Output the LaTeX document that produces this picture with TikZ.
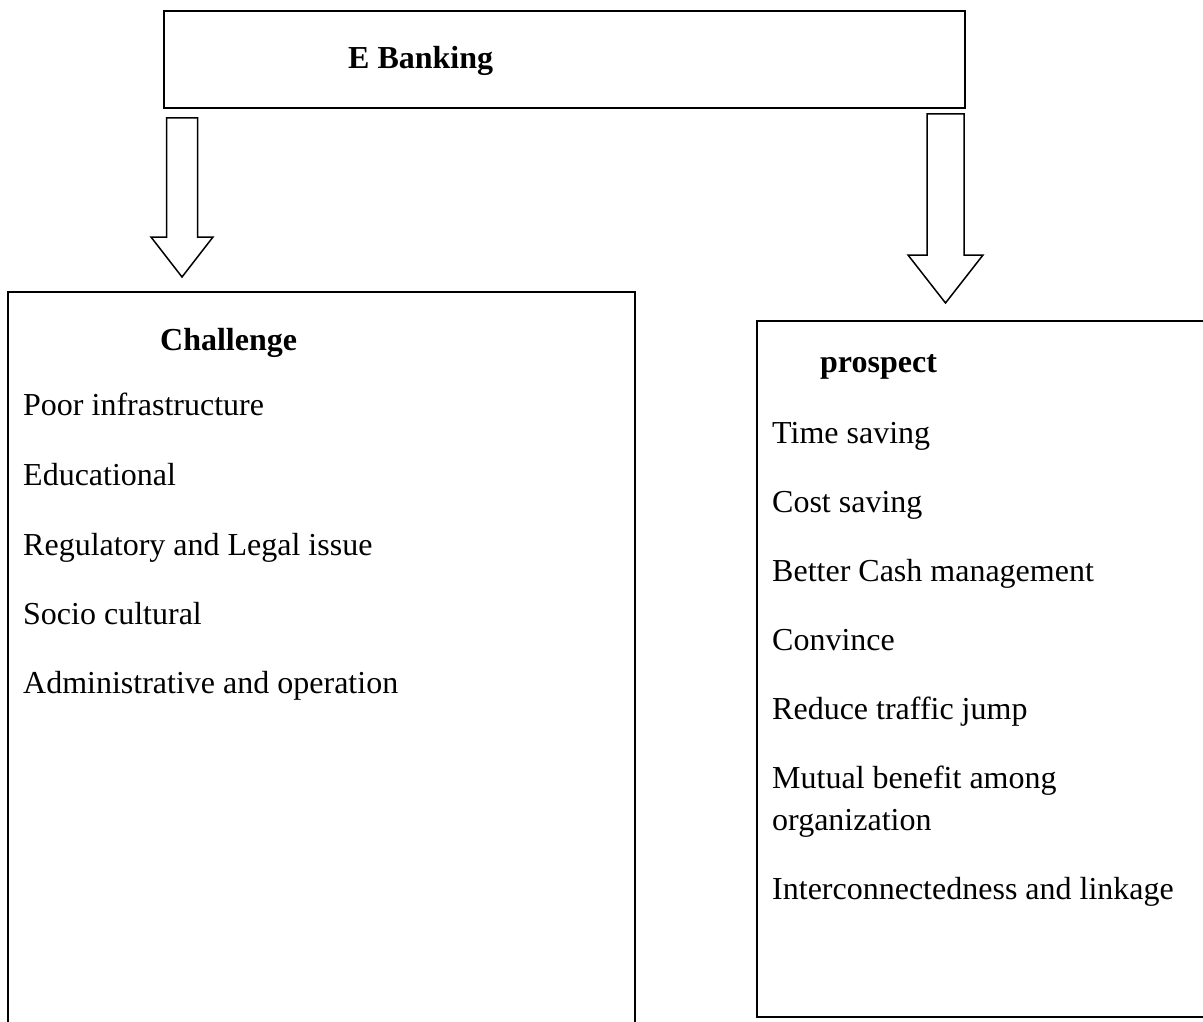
\documentclass[tikz,border=0pt]{standalone}
\usepackage{fontspec}
\setmainfont{Liberation Serif}
\begin{document}
\begin{tikzpicture}[x=1pt,y=-1pt,
  frame/.style={draw,line width=2.4pt,inner sep=0pt,rectangle},
  blockarrow/.style={draw,line width=1.5pt,line join=miter,fill=white},
  txt/.style={anchor=base west,inner sep=0pt,font=\fontsize{32}{38}\selectfont},
  head/.style={txt,font=\fontsize{32}{38}\selectfont\bfseries}]
\useasboundingbox (0,0) rectangle (1203,1022);
\clip (0,0) rectangle (1203,1022);
% boxes
\node[frame,minimum width=801pt,minimum height=97pt] (bank) at (564.5,59.5) {};
\node[frame,minimum width=627pt,minimum height=760pt] (chal) at (321.5,672) {};
\node[frame,minimum width=456pt,minimum height=696pt] (pros) at (985,669) {};
% block arrows (from the E Banking box down to each list box)
\coordinate (ltip) at (182,277);
\coordinate (rtip) at (945.5,303);
\draw[blockarrow] (166.5,118) -- (166.5,237) -- (151,237) -- (ltip) -- (213,237) -- (197.5,237) -- (197.5,118) -- cycle;
\draw[blockarrow] (927,114) -- (927,255) -- (908,255) -- (rtip) -- (983,255) -- (964,255) -- (964,114) -- cycle;
% texts
\node[head] (tb) at (348,69) {E Banking};
\node[head] (tc) at (160,350) {Challenge};
\node[txt] (c1) at (23,415) {Poor infrastructure};
\node[txt] (c2) at (23,485) {Educational};
\node[txt] (c3) at (23,555) {Regulatory and Legal issue};
\node[txt] (c4) at (23,624) {Socio cultural};
\node[txt] (c5) at (23,693) {Administrative and operation};
\node[head] (tp) at (820,372) {prospect};
\node[txt] (p1) at (772,443) {Time saving};
\node[txt] (p2) at (772,512) {Cost saving};
\node[txt] (p3) at (772,581) {Better Cash management};
\node[txt] (p4) at (772,650) {Convince};
\node[txt] (p5) at (772,719) {Reduce traffic jump};
\node[txt] (p6) at (772,788) {Mutual benefit among};
\node[txt] (p7) at (772,830) {organization};
\node[txt] (p8) at (772,899) {Interconnectedness and linkage};
\end{tikzpicture}
\end{document}
